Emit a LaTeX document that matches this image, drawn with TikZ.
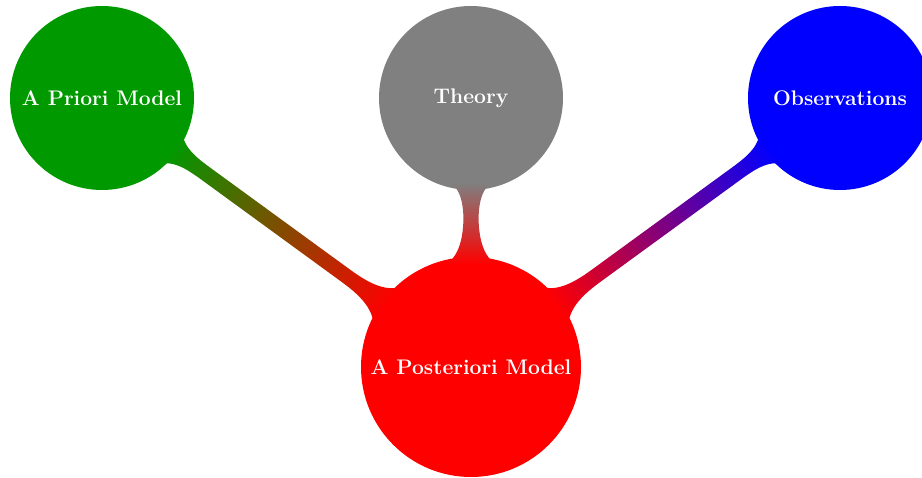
\documentclass[tikz,border=0pt]{standalone}
\usepackage{xcolor}
\usepackage{tikz}
\usetikzlibrary{mindmap}

\begin{document}
\begin{tikzpicture}[mindmap,
  idea/.style={concept,text=white,font=\large\bfseries,text width={},align=center,inner sep=0pt},
  big/.style={minimum size=4.12cm},
  small/.style={minimum size=3.4cm},
  line width=2.8mm]
  \useasboundingbox (0,0) rectangle (18.44,9.56);
  \clip (0,0) rectangle (18.44,9.56);
  % the concepts
  \node[idea,big,concept color=red] (post) at (9.42,2.22) {A Posteriori Model};
  \node[idea,small,concept color=green!60!black] (prior) at (2.04,7.6) {A Priori Model};
  \node[idea,small,concept color=gray] (theory) at (9.42,7.6) {Theory};
  \node[idea,small,concept color=blue] (obs) at (16.8,7.6) {Observations};
  % the bars
  \path (post) to[circle connection bar switch color=from (red) to (green!60!black)] (prior);
  \path (post) to[circle connection bar switch color=from (red) to (gray)] (theory);
  \path (post) to[circle connection bar switch color=from (red) to (blue)] (obs);
\end{tikzpicture}
\end{document}
